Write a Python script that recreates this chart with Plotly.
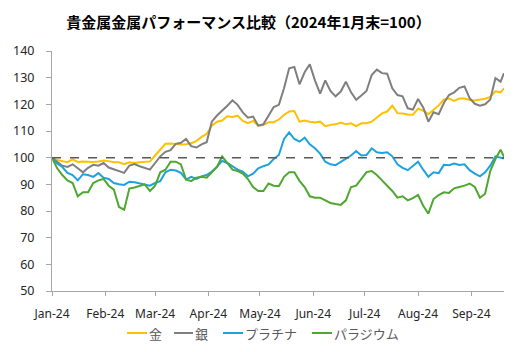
import pandas as pd
import plotly.graph_objects as go

# day offsets from 2024-01-01 at which values were read
DAY_OFFSETS = list(range(0, 262, 3)) + [263]
START = "2024-01-01"

gold = [100, 99.1, 98.7, 98.3, 99.4, 98.4, 98.6, 98.4, 98.4, 98.6,
        98.9, 98.7, 98.3, 98.3, 97.6, 98.3, 98.0, 98.3, 98.5, 98.6,
        100.8, 102.8, 105.2, 105.3, 105.0, 104.9, 105.0, 105.4, 106.2, 107.8,
        108.9, 112.0, 113.5, 113.9, 115.5, 115.3, 115.8, 113.8, 112.9, 113.8,
        112.0, 112.2, 113.3, 113.3, 114.3, 116.0, 117.3, 117.5, 113.5, 113.9,
        113.5, 113.2, 113.5, 111.8, 112.3, 112.5, 113.2, 112.5, 112.9, 111.8,
        112.9, 112.9, 113.5, 115.0, 116.6, 117.3, 119.5, 116.7, 116.6, 116.2,
        116.1, 118.4, 117.6, 116.3, 117.9, 119.6, 121.8, 122.2, 121.3, 122.2,
        122.2, 121.6, 121.4, 121.7, 122.1, 122.8, 124.9, 124.5, 126.0]

silver = [100, 98.5, 97, 96.5, 97.5, 96, 94.5, 96.2, 97.3, 97,
          98, 96.3, 95.6, 95, 94.3, 97, 97.6, 96.8, 96, 95.5,
          98, 100.5, 102.2, 102.8, 105.2, 105.6, 107, 104.3, 103.8, 105,
          105.8, 113.5, 115.8, 117.5, 119.5, 121.5, 119.8, 117, 115, 115.4,
          112, 112.5, 116, 119, 119.8, 126, 133.5, 134, 127.5, 132,
          135, 129, 124, 129, 125, 123, 124.8, 128.5, 124.5, 121.7,
          123.3, 125, 131, 133, 131.7, 131.5, 126, 123.5, 123, 118.5,
          118, 122, 118.8, 113.5, 117, 116.3, 120.5, 123.5, 124.5, 126.2,
          126.7, 122.3, 120.2, 119.5, 120, 121.8, 129.8, 128.5, 131.7]

platinum = [100, 97.8, 96.5, 94.3, 93.5, 91.5, 93.8, 93.5, 92.8, 94.2,
            92.5, 92, 90.5, 90, 89.8, 91, 90.8, 90.3, 89.8, 89.5,
            90.5, 91.2, 94.5, 95.5, 95.2, 94.3, 91.8, 92.8, 92, 93,
            93.5, 94.8, 96.6, 98.8, 98, 96.8, 95.5, 94.8, 93, 94,
            96, 96.8, 97.5, 99.5, 101, 107, 109.5, 107, 106, 107.5,
            105, 103.5, 101.5, 98.5, 97.5, 97.2, 98.5, 99.6, 100.8, 102.5,
            100.8, 101, 103.5, 102, 101.8, 102, 100.5, 97.5, 96.2, 95.3,
            97, 98.5, 95.5, 92.8, 94.5, 94.2, 97.3, 97.2, 97.8, 97.3,
            97.5, 95.3, 94, 93, 94.5, 97, 100.5, 100, 99.7]

palladium = [100, 96, 93.5, 91.5, 90.5, 85.5, 87, 87, 90.5, 91.5,
             92, 89.5, 88, 81.5, 80.5, 88.4, 88.8, 89.5, 90, 87.5,
             89.5, 94.5, 95.5, 98.5, 98.5, 97.5, 91.8, 91.2, 92.5, 92.8,
             92.5, 94.5, 96.5, 100.5, 98, 95.5, 95, 94, 92, 89,
             87.5, 87.5, 90.3, 89.5, 89.3, 92.8, 94.5, 94.5, 91.3, 89,
             85.5, 85, 85, 84, 83, 82.6, 82.3, 84, 89, 89.5,
             92, 94.6, 95, 93.5, 91.5, 89.5, 87.5, 85, 85.5, 84,
             84.8, 86, 82, 79, 84.5, 86, 87, 86.8, 88.5, 89,
             89.5, 90.3, 89, 85, 86.5, 95, 99.5, 103, 100.3]

BASE = 100
SERIES_NAMES = ["金", "銀", "プラチナ", "パラジウム"]
SERIES_VALUES = [gold, silver, platinum, palladium]
SERIES_COLORS = ["#FFC000", "#7F7F7F", "#1CA2DF", "#4EA72E"]

dates = pd.Timestamp(START) + pd.to_timedelta(DAY_OFFSETS, unit="D")

FONT = "Noto Sans, Noto Sans CJK JP, sans-serif"
W, H = 523, 352
ML, MR, MT, MB = 52, 19, 51, 61
PW, PH = W - ML - MR, H - MT - MB


def px_to_paper(px, py):
    return (px - ML) / PW, (H - MB - py) / PH


fig = go.Figure()
for name, vals, color in zip(SERIES_NAMES, SERIES_VALUES, SERIES_COLORS):
    fig.add_trace(go.Scatter(x=dates, y=vals, name=name, mode="lines",
                             showlegend=False,
                             line=dict(color=color, width=2)))

fig.add_trace(go.Scatter(x=[dates[0], dates[-1]], y=[BASE, BASE], mode="lines",
                         showlegend=False, hoverinfo="skip",
                         line=dict(color="#595959", width=1.5, dash="dash")))

# custom legend (positions in pixels of the page)
LEGEND_Y = 333
LEGEND_ITEMS = [(127, 147), (174, 193), (223, 243), (312, 332)]
shapes, annotations = [], []
for (x0, x1), name, color in zip(LEGEND_ITEMS, SERIES_NAMES, SERIES_COLORS):
    px0, py = px_to_paper(x0, LEGEND_Y)
    px1, _ = px_to_paper(x1, LEGEND_Y)
    shapes.append(dict(type="line", xref="paper", yref="paper",
                       x0=px0, x1=px1, y0=py, y1=py,
                       line=dict(color=color, width=2)))
    annotations.append(dict(xref="paper", yref="paper", x=px1, y=py,
                            xanchor="left", yanchor="middle", showarrow=False,
                            text=name,
                            font=dict(family="Noto Sans CJK JP", size=13,
                                      color="#595959")))

fig.update_layout(
    width=W, height=H,
    margin=dict(l=ML, r=MR, t=MT, b=MB),
    paper_bgcolor="white", plot_bgcolor="white",
    font=dict(family=FONT, size=12, color="#333333"),
    title=dict(text="<b>貴金属金属パフォーマンス比較（2024年1月末=100）</b>",
               x=248.5 / W, xanchor="center", xref="container",
               y=1 - 23 / H, yref="container", yanchor="middle",
               font=dict(family="Noto Sans CJK JP", size=15, color="#000000")),
    showlegend=False,
    shapes=shapes,
    annotations=annotations,
)

fig.update_xaxes(type="date", range=[START, "2024-09-20"],
                 tick0=START, dtick="M1", tickformat="%b-%y",
                 ticks="outside", ticklen=4, tickcolor="#A6A6A6",
                 showline=True, linecolor="#A6A6A6", linewidth=1,
                 showgrid=False, zeroline=False, ticklabelstandoff=8,
                 tickfont=dict(size=12, color="#262626"))
fig.update_yaxes(range=[50, 140], dtick=10, ticks="outside", ticklen=5,
                 tickcolor="#A6A6A6", showline=True, linecolor="#A6A6A6",
                 linewidth=1, showgrid=False, zeroline=False,
                 ticklabelstandoff=9,
                 tickfont=dict(size=12.5, color="#262626"))

fig.write_html("out.html")
